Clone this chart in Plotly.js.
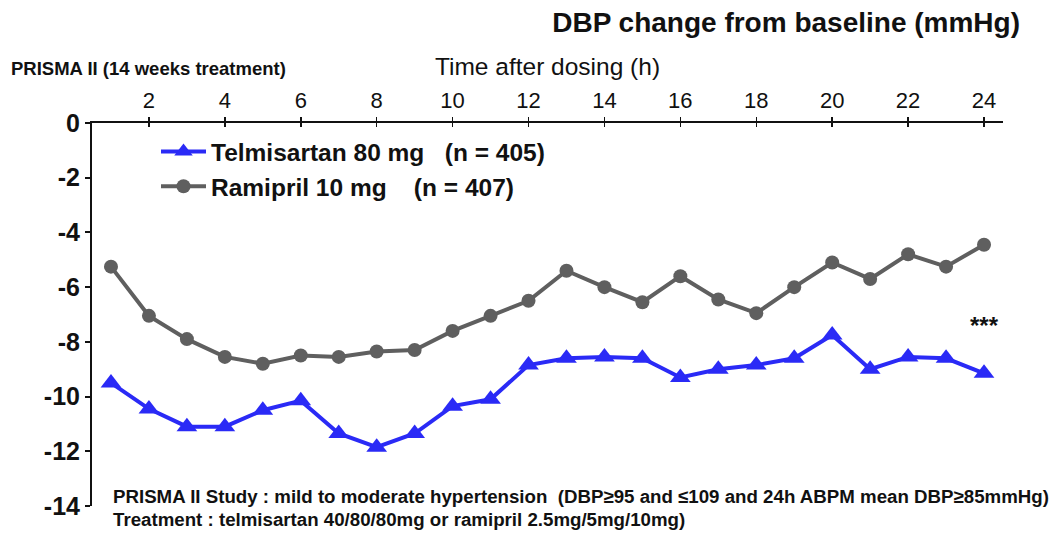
<!DOCTYPE html>
<html>
<head>
<meta charset="utf-8">
<script src="https://cdn.plot.ly/plotly-3.0.1.min.js"></script>
<style>
  html, body { margin: 0; padding: 0; background: #ffffff; }
  #chart { width: 1056px; height: 536px; }
</style>
</head>
<body>
<div id="chart"></div>
<script>
// Hours after dosing
const hours = [1, 2, 3, 4, 5, 6, 7, 8, 9, 10, 11, 12, 13, 14, 15, 16, 17, 18, 19, 20, 21, 22, 23, 24];

// Mean DBP change from baseline (mmHg)
const telmisartan = [-9.5, -10.45, -11.1, -11.1, -10.5, -10.15, -11.35, -11.85, -11.35, -10.35, -10.1, -8.85,
                     -8.6, -8.55, -8.6, -9.3, -9.0, -8.85, -8.6, -7.75, -9.0, -8.55, -8.6, -9.15];
const ramipril = [-5.25, -7.05, -7.9, -8.55, -8.8, -8.5, -8.55, -8.35, -8.3, -7.6, -7.05, -6.5,
                  -5.4, -6.0, -6.55, -5.6, -6.45, -6.95, -6.0, -5.1, -5.7, -4.8, -5.25, -4.45];

const xTicks = [2, 4, 6, 8, 10, 12, 14, 16, 18, 20, 22, 24];
const yTicks = [0, -2, -4, -6, -8, -10, -12, -14];

const seriesNames = ['Telmisartan 80 mg\u00a0\u00a0\u00a0(n = 405)', 'Ramipril 10 mg\u00a0\u00a0\u00a0\u00a0(n = 407)'];

const FONT = 'Liberation Sans, Arial, Helvetica, sans-serif';
const W = 1056, H = 536;
const M = { l: 92, r: 53, t: 123, b: 30 };
const PW = W - M.l - M.r, PH = H - M.t - M.b;
// pixel position -> paper fraction
const px = v => (v - M.l) / PW;
const py = v => 1 - (v - M.t) / PH;

const traces = [
  {
    x: hours, y: telmisartan, name: seriesNames[0], type: 'scatter', mode: 'lines+markers',
    line: { color: '#2a2af6', width: 4 },
    marker: { symbol: 'triangle-up', size: 18, color: '#2a2af6' },
    hoverinfo: 'x+y'
  },
  {
    x: hours, y: ramipril, name: seriesNames[1], type: 'scatter', mode: 'lines+markers',
    line: { color: '#5f5f5f', width: 4 },
    marker: { symbol: 'circle', size: 14, color: '#5f5f5f' },
    hoverinfo: 'x+y'
  },
  // empty trace that carries the inward half of the crossing x ticks
  { x: [], y: [], xaxis: 'x2', type: 'scatter', showlegend: false, hoverinfo: 'skip' }
];

const layout = {
  width: W, height: H,
  margin: M,
  paper_bgcolor: '#ffffff', plot_bgcolor: '#ffffff',
  font: { family: FONT, color: '#111111' },
  showlegend: true,
  legend: {
    x: px(156), y: py(129), xanchor: 'left', yanchor: 'top',
    bgcolor: 'rgba(255,255,255,0)', borderwidth: 0,
    itemwidth: 45,
    font: { family: FONT, size: 24.5, weight: 'bold', color: '#111111' }
  },
  title: {
    text: '<b>DBP change from baseline (mmHg)</b>',
    font: { family: FONT, size: 28, color: '#111111' },
    xref: 'container', yref: 'container',
    x: 1020 / W, xanchor: 'right',
    y: 1 - 22 / H, yanchor: 'middle'
  },
  xaxis: {
    side: 'top', range: [0.5, 24.5],
    tickvals: xTicks, ticktext: xTicks.map(String),
    ticks: 'outside', ticklen: 4, tickwidth: 1.5, tickcolor: '#111111',
    tickfont: { family: FONT, size: 22, color: '#111111' },
    showline: true, linecolor: '#111111', linewidth: 2,
    showgrid: false, zeroline: false,
    title: { text: 'Time after dosing (h)', font: { family: FONT, size: 24.5, color: '#111111' }, standoff: 6 }
  },
  xaxis2: {
    overlaying: 'x', anchor: 'y', side: 'top', range: [0.5, 24.5],
    tickvals: xTicks, showticklabels: false,
    ticks: 'inside', ticklen: 4, tickwidth: 1.5, tickcolor: '#111111',
    showline: false, showgrid: false, zeroline: false
  },
  yaxis: {
    range: [-14, 0], tickvals: yTicks, ticktext: yTicks.map(String),
    ticks: 'outside', ticklen: 5, tickwidth: 2, tickcolor: '#111111',
    tickfont: { family: FONT, size: 25, weight: 'bold', color: '#111111' },
    showline: true, linecolor: '#111111', linewidth: 2,
    showgrid: false, zeroline: false
  },
  annotations: [
    {
      text: '<b>PRISMA II (14 weeks treatment)</b>', xref: 'paper', yref: 'paper',
      x: px(9), y: py(68), xanchor: 'left', yanchor: 'middle', showarrow: false,
      font: { family: FONT, size: 18.5, color: '#111111' }
    },
    {
      text: '<b>***</b>', xref: 'x', yref: 'y', x: 24, y: -7.4, showarrow: false,
      font: { family: FONT, size: 24, color: '#111111' }
    },
    {
      text: '<b>PRISMA II Study : mild to moderate hypertension\u00a0\u00a0(DBP\u226595 and \u2264109 and 24h ABPM mean DBP\u226585mmHg)</b>',
      xref: 'paper', yref: 'paper', x: px(111), y: py(496), xanchor: 'left', yanchor: 'middle', showarrow: false,
      font: { family: FONT, size: 18.7, color: '#111111' }
    },
    {
      text: '<b>Treatment : telmisartan 40/80/80mg or ramipril 2.5mg/5mg/10mg)</b>',
      xref: 'paper', yref: 'paper', x: px(111), y: py(519), xanchor: 'left', yanchor: 'middle', showarrow: false,
      font: { family: FONT, size: 18.7, color: '#111111' }
    }
  ]
};

Plotly.newPlot('chart', traces, layout, { displayModeBar: false, staticPlot: true });
</script>
</body>
</html>
